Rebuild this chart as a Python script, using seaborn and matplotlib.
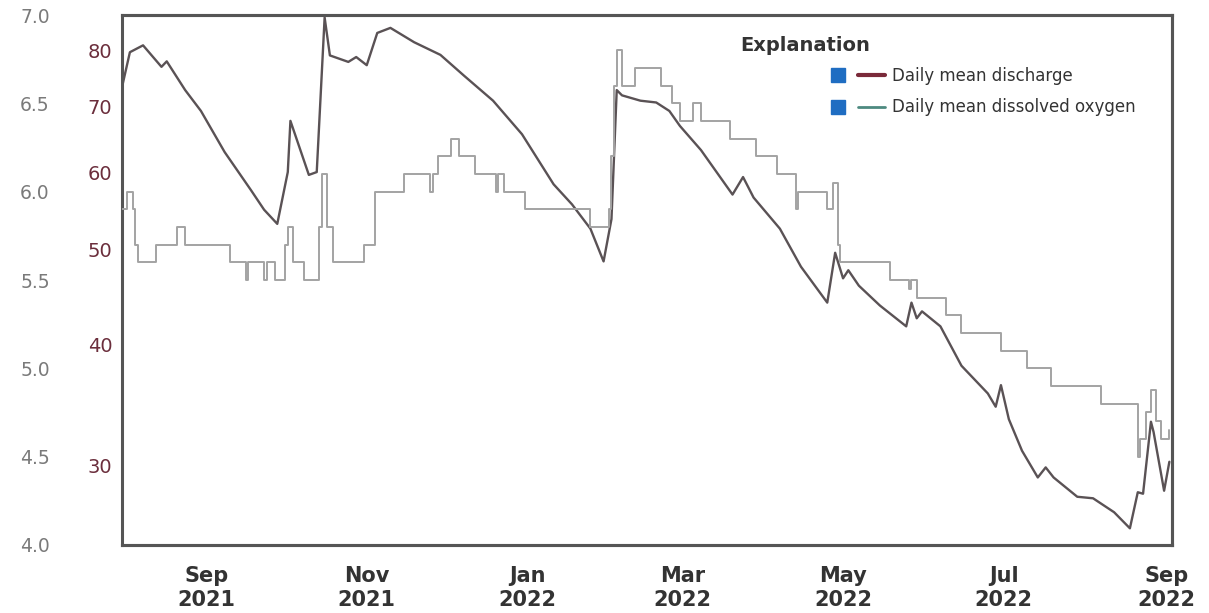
import matplotlib
matplotlib.use("Agg")
import matplotlib.pyplot as plt
import matplotlib.dates as mdates
from matplotlib.lines import Line2D
from matplotlib.legend_handler import HandlerTuple
from matplotlib.ticker import FixedLocator, FuncFormatter, NullLocator
import pandas as pd
import seaborn as sns

# Daily mean discharge (log axis)
q_dates = ["2021-07-31", "2021-08-03", "2021-08-08", "2021-08-15", "2021-08-17",
           "2021-08-24", "2021-08-30", "2021-09-08", "2021-09-18", "2021-09-23",
           "2021-09-28", "2021-10-02", "2021-10-03", "2021-10-10", "2021-10-13",
           "2021-10-16", "2021-10-18", "2021-10-25", "2021-10-28", "2021-11-01",
           "2021-11-05", "2021-11-10", "2021-11-19", "2021-11-29", "2021-12-08",
           "2021-12-19", "2021-12-30", "2022-01-11", "2022-01-18", "2022-01-25",
           "2022-01-30", "2022-02-02", "2022-02-04", "2022-02-06", "2022-02-13",
           "2022-02-19", "2022-02-24", "2022-02-28", "2022-03-08", "2022-03-20",
           "2022-03-24", "2022-03-28", "2022-04-07", "2022-04-15", "2022-04-25",
           "2022-04-28", "2022-05-01", "2022-05-03", "2022-05-07", "2022-05-15",
           "2022-05-25", "2022-05-27", "2022-05-29", "2022-05-31", "2022-06-07",
           "2022-06-15", "2022-06-25", "2022-06-28", "2022-06-30", "2022-07-03",
           "2022-07-08", "2022-07-14", "2022-07-17", "2022-07-20", "2022-07-29",
           "2022-08-04", "2022-08-12", "2022-08-18", "2022-08-21", "2022-08-23",
           "2022-08-26", "2022-08-27", "2022-08-31", "2022-09-02"]
q_vals = [73.3, 79.6, 80.9, 76.9, 77.9,
          72.8, 69.3, 62.9, 57.5, 54.9,
          53.1, 60.0, 67.7, 59.6, 60.0,
          86.4, 79.0, 77.8, 78.7, 77.2,
          83.3, 84.3, 81.5, 79.1, 75.3,
          71.0, 65.6, 58.3, 55.6, 52.5,
          48.6, 53.7, 72.8, 71.9, 71.0,
          70.7, 69.3, 66.9, 63.2, 56.9,
          59.3, 56.5, 52.5, 48.0, 44.1,
          49.6, 46.7, 47.6, 45.9, 43.8,
          41.7, 44.1, 42.5, 43.2, 41.7,
          38.0, 35.6, 34.5, 36.3, 33.5,
          31.1, 29.2, 29.9, 29.2, 27.9,
          27.8, 26.9, 25.9, 28.2, 28.1,
          33.3, 32.5, 28.3, 30.3]

# Daily mean dissolved oxygen, mg/L (value changes, drawn as steps)
do_dates = ["2021-07-31", "2021-08-02", "2021-08-04", "2021-08-05", "2021-08-06",
            "2021-08-13", "2021-08-21", "2021-08-24", "2021-09-10", "2021-09-16",
            "2021-09-17", "2021-09-23", "2021-09-24", "2021-09-27", "2021-10-01",
            "2021-10-02", "2021-10-04", "2021-10-08", "2021-10-14", "2021-10-15",
            "2021-10-17", "2021-10-19", "2021-10-31", "2021-11-04", "2021-11-15",
            "2021-11-25", "2021-11-26", "2021-11-28", "2021-12-03", "2021-12-06",
            "2021-12-12", "2021-12-20", "2021-12-21", "2021-12-23", "2021-12-31",
            "2022-01-25", "2022-02-01", "2022-02-02", "2022-02-03", "2022-02-04",
            "2022-02-06", "2022-02-11", "2022-02-21", "2022-02-25", "2022-02-28",
            "2022-03-05", "2022-03-08", "2022-03-19", "2022-03-29", "2022-04-06",
            "2022-04-13", "2022-04-14", "2022-04-25", "2022-04-27", "2022-04-29",
            "2022-04-30", "2022-05-19", "2022-05-26", "2022-05-27", "2022-05-29",
            "2022-06-09", "2022-06-15", "2022-06-30", "2022-07-10", "2022-07-19",
            "2022-08-07", "2022-08-21", "2022-08-22", "2022-08-24", "2022-08-26",
            "2022-08-28", "2022-08-30", "2022-09-02"]
do_vals = [5.9, 6.0, 5.9, 5.7, 5.6,
           5.7, 5.8, 5.7, 5.6, 5.5,
           5.6, 5.5, 5.6, 5.5, 5.7,
           5.8, 5.6, 5.5, 5.8, 6.1,
           5.8, 5.6, 5.7, 6.0, 6.1,
           6.0, 6.1, 6.2, 6.3, 6.2,
           6.1, 6.0, 6.1, 6.0, 5.9,
           5.8, 5.9, 6.2, 6.6, 6.8,
           6.6, 6.7, 6.6, 6.5, 6.4,
           6.5, 6.4, 6.3, 6.2, 6.1,
           5.9, 6.0, 5.9, 6.05, 5.7,
           5.6, 5.5, 5.45, 5.5, 5.4,
           5.3, 5.2, 5.1, 5.0, 4.9,
           4.8, 4.5, 4.6, 4.75, 4.88,
           4.7, 4.6, 4.65]

q_ticks = [30, 40, 50, 60, 70, 80]
do_ticks = [4.0, 4.5, 5.0, 5.5, 6.0, 6.5, 7.0]
labels = ["Daily mean discharge", "Daily mean dissolved oxygen"]

q_df = pd.DataFrame({"date": pd.to_datetime(q_dates), "discharge": q_vals})
do_df = pd.DataFrame({"date": pd.to_datetime(do_dates), "oxygen": do_vals})

sns.set_style("white")
plt.rcParams["font.family"] = ["DejaVu Sans"]

Q_COLOR = "#5a5255"
DO_COLOR = "#a3a3a3"
Q_TICK = "#6b2e3c"
DO_TICK = "#7a7a7a"

fig = plt.figure(figsize=(12.09, 6.13), dpi=100)
ax = fig.add_axes([122 / 1209, 68 / 613, 1050 / 1209, 530 / 613])
ax2 = ax.twinx()

sns.lineplot(data=q_df, x="date", y="discharge", ax=ax, color=Q_COLOR, lw=1.7)
sns.lineplot(data=do_df, x="date", y="oxygen", ax=ax2, color=DO_COLOR, lw=1.4,
             drawstyle="steps-post")

# discharge axis (log) on the inner left
ax.set_yscale("log")
ax.set_ylim(24.9, 86.9)
ax.yaxis.set_major_locator(FixedLocator(q_ticks))
ax.yaxis.set_minor_locator(NullLocator())
ax.yaxis.set_major_formatter(FuncFormatter(lambda v, p: f"{v:.0f}"))
ax.tick_params(axis="y", length=0, pad=7, labelsize=14, labelcolor=Q_TICK)
ax.set_ylabel("")
ax.set_xlabel("")

# oxygen axis moved to the outer left
ax2.set_ylim(4.0, 7.0)
ax2.set_yticks(do_ticks)
ax2.yaxis.set_major_formatter(FuncFormatter(lambda v, p: f"{v:.1f}"))
ax2.yaxis.set_ticks_position("left")
ax2.yaxis.set_label_position("left")
ax2.spines["left"].set_position(("outward", 46))
ax2.spines["left"].set_visible(False)
ax2.tick_params(axis="y", length=0, pad=6, labelsize=13.5, labelcolor=DO_TICK)
ax2.set_ylabel("")

ax.set_xlim(pd.Timestamp("2021-07-31"), pd.Timestamp("2022-09-03"))
ax.xaxis.set_major_locator(mdates.MonthLocator(bymonth=[1, 3, 5, 7, 9, 11]))
ax.xaxis.set_major_formatter(mdates.DateFormatter("%b\n%Y"))
ax.tick_params(axis="x", length=0, pad=15, labelsize=15, labelcolor="#333333")
for t in ax.get_xticklabels():
    t.set_fontweight("bold")
    t.set_linespacing(1.25)

for a in (ax, ax2):
    for side in ("top", "right", "bottom"):
        a.spines[side].set_color("#555555")
        a.spines[side].set_linewidth(2.2)
ax.spines["left"].set_color("#555555")
ax.spines["left"].set_linewidth(2.2)

# legend ("Explanation")
ax2.text(0.589, 0.943, "Explanation", transform=ax2.transAxes, fontsize=14,
         fontweight="bold", color="#333333", va="center", ha="left")
box = dict(marker="s", markersize=10.5, color="#1f6dc2", linestyle="none")
handles = [(Line2D([], [], **box), Line2D([], [], color="#7a2a3a", lw=3)),
           (Line2D([], [], **box), Line2D([], [], color="#4d8a80", lw=2))]
ax2.legend(handles, labels, loc="upper left", bbox_to_anchor=(0.655, 0.93),
           frameon=False, fontsize=12, labelspacing=0.8, handlelength=3.6,
           handletextpad=0.42, labelcolor="#333333",
           handler_map={tuple: HandlerTuple(ndivide=None, pad=0.39)})

fig.savefig("out.png", dpi=100)
